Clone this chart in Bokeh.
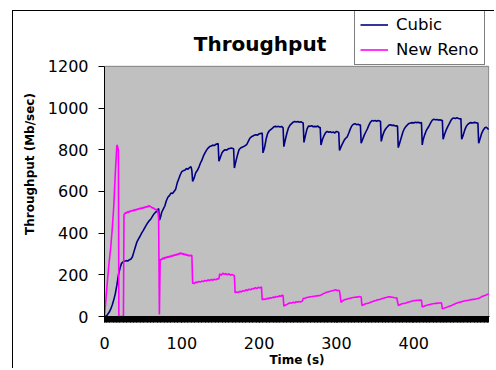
from bokeh.plotting import figure
from bokeh.models import FixedTicker, Range1d, Legend, LegendItem, Label
from bokeh.embed import file_html
from bokeh.resources import INLINE

# ---- data ----
cubic_t = [0, 3, 6, 8, 10, 12, 14, 16, 18, 20, 22, 24, 26, 28, 30, 32, 34, 36, 38, 40,
           42, 44, 46, 48, 50, 52, 54, 56, 58, 60, 62, 64, 66, 68, 70, 71, 72, 74, 76, 78,
           80, 82, 84, 86, 88, 90, 92, 94, 96, 98, 100, 102, 104, 106, 108, 110, 112, 113, 114, 116,
           118, 120, 122, 124, 126, 128, 130, 132, 134, 136, 138, 140, 142, 144, 146, 147, 148, 150, 152, 154,
           156, 158, 160, 162, 164, 166, 167, 168, 170, 172, 174, 176, 178, 180, 182, 184, 186, 188, 190, 192,
           194, 196, 198, 200, 202, 204, 205, 207, 209, 211, 213, 215, 217, 219, 221, 223, 225, 227, 229, 231,
           232, 234, 236, 238, 240, 242, 244, 246, 248, 250, 252, 254, 256, 257, 258, 260, 262, 264, 266, 268,
           270, 272, 274, 276, 278, 279, 280, 282, 284, 286, 288, 290, 292, 294, 296, 298, 300, 302, 303, 304,
           306, 308, 310, 312, 314, 316, 318, 320, 322, 324, 326, 328, 330, 331, 332, 334, 336, 338, 340, 342,
           344, 346, 348, 350, 352, 354, 356, 357, 358, 360, 362, 364, 366, 368, 370, 372, 374, 376, 378, 379,
           380, 382, 384, 386, 388, 390, 392, 394, 396, 398, 400, 402, 404, 406, 408, 410, 411, 412, 414, 416,
           418, 420, 422, 424, 426, 428, 430, 432, 434, 436, 437, 438, 440, 442, 444, 446, 448, 450, 452, 454,
           456, 458, 460, 461, 462, 464, 466, 468, 470, 472, 474, 476, 478, 480, 482, 483, 484, 486, 488, 490,
           492, 494, 496, 497]
cubic_v = [0, 5, 20, 35, 55, 80, 110, 150, 200, 230, 255, 262, 265, 268, 266, 272, 275, 285, 310, 335,
           358, 372, 385, 400, 412, 425, 438, 450, 460, 468, 480, 492, 500, 505, 518, 462, 470, 500, 515, 530,
           555, 572, 580, 592, 590, 600, 610, 640, 660, 680, 695, 700, 702, 710, 706, 715, 718, 700, 648, 665,
           690, 700, 715, 735, 750, 770, 785, 798, 808, 815, 818, 822, 820, 826, 828, 830, 745, 765, 785, 795,
           800, 798, 804, 806, 808, 806, 805, 712, 745, 775, 800, 808, 812, 815, 820, 825, 840, 855, 862, 866,
           870, 872, 870, 876, 878, 880, 785, 810, 850, 878, 890, 896, 902, 910, 912, 910, 912, 909, 912, 905,
           815, 850, 880, 905, 918, 925, 932, 935, 933, 935, 932, 934, 930, 928, 835, 870, 900, 914, 912, 915,
           910, 912, 910, 914, 906, 908, 823, 850, 868, 882, 888, 884, 886, 882, 885, 880, 888, 885, 884, 796,
           815, 830, 845, 855, 862, 880, 900, 915, 922, 925, 920, 922, 918, 920, 831, 850, 870, 885, 900, 918,
           932, 940, 938, 940, 937, 940, 938, 936, 840, 870, 890, 902, 910, 918, 920, 916, 918, 914, 915, 912,
           810, 835, 860, 885, 902, 912, 920, 926, 928, 930, 928, 932, 930, 932, 928, 930, 823, 845, 870, 890,
           903, 915, 930, 942, 946, 944, 945, 942, 944, 940, 942, 850, 875, 895, 911, 925, 940, 950, 952, 950,
           953, 950, 948, 950, 850, 870, 895, 912, 922, 928, 930, 928, 931, 930, 928, 928, 831, 855, 880, 895,
           905, 908, 900, 897]

reno_t = [0, 2, 4, 6, 8, 10, 12, 14, 16, 17, 18, 18.6, 21, 24.5, 25.2, 26,
          27, 28, 29, 30, 31, 32, 33, 34, 35, 36, 37, 38, 39, 40, 41, 42, 43, 44, 45, 46,
          47, 48, 49, 50, 51, 52, 53, 54, 55, 56, 57, 58, 59, 60, 61, 62, 63, 64, 65, 66,
          67, 68, 69, 70, 71, 72, 73, 74, 75, 76, 77, 78, 79, 80, 81, 82, 83, 84, 85, 86,
          87, 88, 89, 90, 91, 92, 93, 94, 95, 96, 97, 98, 99, 100, 101, 102, 103, 104, 105, 106,
          107, 108, 109, 110, 111, 112, 113, 114, 116, 118, 120, 122, 124, 126, 128, 130, 132, 134, 136, 138,
          140, 142, 144, 146, 148, 149, 151, 153, 155, 157, 159, 161, 163, 165, 167, 168, 169, 171, 173, 175,
          177, 179, 181, 183, 185, 187, 189, 191, 193, 195, 197, 199, 201, 203, 204, 206, 208, 210, 212, 214,
          216, 218, 220, 222, 224, 226, 228, 230, 231, 232, 234, 236, 238, 240, 242, 244, 246, 248, 250, 252,
          254, 256, 257, 259, 261, 263, 265, 267, 269, 271, 273, 275, 277, 279, 281, 283, 285, 287, 289, 291,
          293, 295, 297, 299, 301, 303, 304, 306, 308, 310, 312, 314, 316, 318, 320, 322, 324, 326, 328, 330,
          332, 333, 335, 337, 339, 341, 343, 345, 347, 349, 351, 353, 355, 357, 359, 361, 363, 365, 367, 369,
          371, 373, 375, 377, 378, 380, 382, 384, 386, 388, 390, 392, 394, 396, 398, 400, 402, 404, 406, 408,
          410, 411, 413, 415, 417, 419, 421, 423, 425, 427, 429, 431, 433, 435, 436, 437, 439, 441, 443, 445,
          447, 449, 451, 453, 455, 457, 459, 461, 463, 465, 467, 469, 471, 473, 475, 477, 479, 481, 483, 485,
          487, 489, 491, 493, 495, 497]
reno_v = [0, 90, 180, 260, 330, 420, 530, 690, 823, 815, 795, 0, 0, 0, 488, 492,
          498, 495, 500, 503, 498, 505, 502, 508, 505, 510, 506, 512, 508, 514, 510, 516, 512, 518, 515, 520,
          516, 522, 518, 524, 520, 526, 522, 528, 524, 530, 527, 532, 528, 526, 524, 520, 522, 518, 516, 512,
          514, 510, 506, 470, 10, 275, 270, 278, 274, 282, 276, 284, 279, 286, 282, 288, 283, 290, 286, 292,
          287, 294, 290, 296, 292, 298, 294, 300, 296, 303, 298, 306, 300, 304, 298, 302, 296, 300, 294, 298,
          292, 296, 290, 294, 290, 295, 292, 160, 158, 165, 162, 168, 165, 170, 168, 173, 170, 176, 172, 178,
          174, 179, 176, 181, 180, 205, 198, 208, 202, 206, 200, 205, 198, 202, 197, 196, 113, 118, 115, 121,
          118, 124, 122, 128, 125, 131, 128, 134, 132, 138, 134, 140, 137, 142, 80, 84, 82, 87, 85, 90,
          88, 93, 91, 96, 94, 99, 97, 102, 100, 50, 55, 58, 62, 66, 64, 68, 66, 71, 69, 72,
          70, 74, 86, 88, 90, 92, 94, 95, 96, 97, 98, 99, 100, 101, 105, 110, 112, 116, 118, 120,
          122, 124, 126, 128, 124, 126, 122, 68, 75, 80, 82, 84, 86, 88, 90, 91, 92, 93, 94, 96,
          94, 53, 56, 60, 62, 64, 66, 70, 72, 75, 77, 80, 81, 83, 86, 88, 90, 92, 94, 95,
          93, 92, 90, 89, 90, 53, 56, 60, 62, 63, 65, 68, 70, 72, 74, 76, 77, 78, 78, 79,
          78, 46, 49, 52, 54, 56, 58, 60, 61, 62, 63, 64, 65, 66, 64, 37, 40, 42, 45, 48,
          50, 53, 57, 60, 63, 66, 68, 70, 72, 74, 76, 77, 78, 80, 81, 82, 83, 85, 86, 89,
          93, 97, 100, 102, 106, 108]

assert len(cubic_t) == len(cubic_v), (len(cubic_t), len(cubic_v))
assert len(reno_t) == len(reno_v), (len(reno_t), len(reno_v))

series_names = ["Cubic", "New Reno"]
series_colors = ["#000080", "#FF00FF"]
x_ticks = [0, 100, 200, 300, 400]
x_max = 497                      # last sample (category axis end)
y_ticks = [0, 200, 400, 600, 800, 1000, 1200]
y_max = 1200
title_text = "Throughput"

FONT = "DejaVu Sans"

# frame spans from canvas top (room for title + legend) down to the x axis
Y_TOP = 1463
p = figure(width=482, height=358, output_backend="svg", toolbar_location=None,
           x_range=Range1d(0, x_max + 1), y_range=Range1d(0, Y_TOP),
           min_border_left=91, min_border_right=6, min_border_top=0, min_border_bottom=52)

p.styles = {"border-left": "1px solid black", "border-top": "1px solid black",
            "margin-left": "12px", "margin-top": "10px"}

p.background_fill_color = "white"
p.border_fill_color = "white"
p.outline_line_color = None
p.xgrid.visible = False
p.ygrid.visible = False

# grey plot area (Excel style)
p.quad(left=[0], right=[x_max], bottom=[0], top=[y_max],
       fill_color="#C0C0C0", line_color="#808080", line_width=1)

r1 = p.line(cubic_t, cubic_v, line_color=series_colors[0], line_width=1.6)
r2 = p.line(reno_t, reno_v, line_color=series_colors[1], line_width=1.6)

xa = p.xaxis[0]
xa.ticker = FixedTicker(ticks=x_ticks, minor_ticks=list(range(0, x_max + 1)))
xa.axis_line_color = "black"
xa.major_tick_line_color = "black"
xa.minor_tick_line_color = "black"
xa.major_tick_out = 6
xa.major_tick_in = 0
xa.minor_tick_out = 6
xa.minor_tick_in = 0
xa.major_label_standoff = 14
xa.major_label_text_font = FONT
xa.major_label_text_font_size = "16px"
xa.major_label_text_color = "black"
xa.axis_label = "Time (s)"
xa.axis_label_text_font = FONT
xa.axis_label_text_font_size = "12px"
xa.axis_label_text_font_style = "bold"
xa.axis_label_text_color = "black"
xa.axis_label_standoff = 1

ya = p.yaxis[0]
ya.ticker = FixedTicker(ticks=y_ticks)
ya.bounds = (0, y_max)
ya.axis_line_color = "black"
ya.major_tick_line_color = "black"
ya.major_tick_out = 6
ya.major_tick_in = 0
ya.minor_tick_out = 0
ya.minor_tick_in = 0
ya.major_label_standoff = 10
ya.major_label_text_font = FONT
ya.major_label_text_font_size = "16px"
ya.major_label_text_color = "black"
ya.axis_label = "Throughput (Mb/sec)"
ya.axis_label_text_font = FONT
ya.axis_label_text_font_size = "12px"
ya.axis_label_text_font_style = "bold"
ya.axis_label_text_color = "black"
ya.axis_label_standoff = 8

title = Label(x=155.5, y=272.7, x_units="screen", y_units="screen", text=title_text,
              text_font=FONT, text_font_size="20px", text_font_style="bold",
              text_color="black", text_align="center", text_baseline="alphabetic")
p.add_layout(title)

legend = Legend(items=[LegendItem(label=series_names[0], renderers=[r1]),
                       LegendItem(label=series_names[1], renderers=[r2])],
                location=(250, 251),
                border_line_color="black", border_line_width=1,
                background_fill_color="white", background_fill_alpha=1.0,
                label_text_font=FONT, label_text_font_size="16.5px", label_text_color="black",
                glyph_width=28, glyph_height=19, label_height=19,
                label_standoff=8, padding=5, spacing=6, margin=0)
p.add_layout(legend, "center")

open("out.html", "w").write(file_html(p, INLINE))
